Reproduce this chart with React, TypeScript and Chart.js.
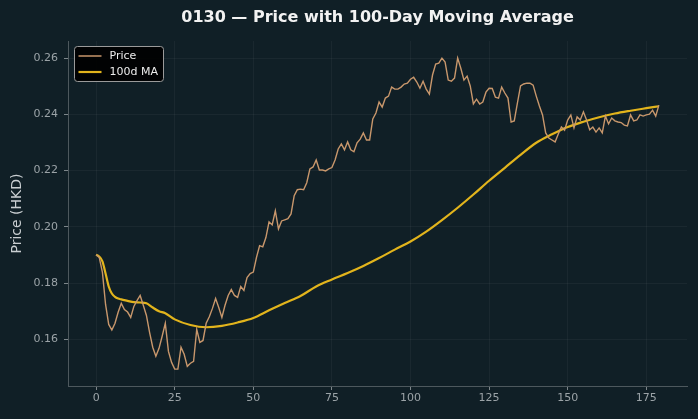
import { useEffect, useRef } from "react";
import { Chart, registerables } from "chart.js";

Chart.register(...registerables);

const TITLE = "0130 — Price with 100-Day Moving Average";
const Y_LABEL = "Price (HKD)";
const PRICE_LABEL = "Price";
const MA_LABEL = "100d MA";

const X_TICKS = [0, 25, 50, 75, 100, 125, 150, 175];
const Y_TICKS = [0.16, 0.18, 0.2, 0.22, 0.24, 0.26];
const X_RANGE = [-8.95, 187.95];
const Y_RANGE = [0.1434, 0.2661];

// Daily closing price, one value per trading day (day 0 .. 179)
const PRICE = [
  0.1901, 0.1891, 0.1838, 0.1724, 0.1653, 0.1633, 0.1657, 0.1696, 0.1728, 0.1706,
  0.1697, 0.1678, 0.1717, 0.1738, 0.1756, 0.1721, 0.1685, 0.1625, 0.1572, 0.154,
  0.1568, 0.1611, 0.1657, 0.1557, 0.1518, 0.1494, 0.1494, 0.1572, 0.1547, 0.1504,
  0.1515, 0.1522, 0.1635, 0.1589, 0.1596, 0.1657, 0.168, 0.171, 0.1745, 0.1713,
  0.1678, 0.1721, 0.1756, 0.1777, 0.1756, 0.1749, 0.1788, 0.1774, 0.182, 0.1834,
  0.1839, 0.1891, 0.1933, 0.1929, 0.1962, 0.2018, 0.2007, 0.2057, 0.1993, 0.2021,
  0.2025, 0.2029, 0.2046, 0.2111, 0.2132, 0.2134, 0.2132, 0.2157, 0.2206, 0.2213,
  0.2238, 0.2202, 0.2202, 0.2199, 0.2206, 0.2211, 0.2238, 0.2277, 0.2295, 0.2274,
  0.2302, 0.2274, 0.2267, 0.2299, 0.2312, 0.2334, 0.2309, 0.2309, 0.2384, 0.2405,
  0.2444, 0.2426, 0.2458, 0.2465, 0.2497, 0.249, 0.249, 0.2497, 0.2508, 0.2511,
  0.2525, 0.2532, 0.2515, 0.2493, 0.2518, 0.249, 0.2472, 0.254, 0.2579, 0.2582,
  0.26, 0.2586, 0.2522, 0.2518, 0.2529, 0.26, 0.2564, 0.2522, 0.2536, 0.2501,
  0.2437, 0.2454, 0.2437, 0.2444, 0.2479, 0.2493, 0.2492, 0.2461, 0.2458, 0.2497,
  0.2476, 0.2458, 0.2373, 0.2377, 0.244, 0.2501, 0.2508, 0.2511, 0.2511, 0.2504,
  0.2465, 0.243, 0.2398, 0.2334, 0.2316, 0.2309, 0.2302, 0.233, 0.2355, 0.2344,
  0.238, 0.2398, 0.2352, 0.2391, 0.238, 0.2409, 0.238, 0.2345, 0.2355, 0.2337,
  0.2352, 0.2334, 0.2394, 0.2366, 0.2387, 0.2377, 0.2373, 0.2371, 0.2362, 0.2359,
  0.2398, 0.2377, 0.238, 0.2398, 0.2394, 0.2398, 0.2401, 0.2415, 0.2394, 0.2433,
];

// 100-day moving average, sampled on selected days
const MA_DAY = [
  0, 1, 2, 3, 4, 5, 6, 7, 8, 10, 12, 14, 16, 18, 20, 22, 25, 30, 35, 40, 45, 50,
  55, 60, 65, 70, 75, 80, 85, 90, 95, 100, 105, 110, 115, 120, 125, 130, 135, 140,
  145, 150, 155, 160, 165, 170, 175, 179,
];
const MA_VALUE = [
  0.1901, 0.1894, 0.1877, 0.1834, 0.1788, 0.1763, 0.1751, 0.1745, 0.1742, 0.1737,
  0.1732, 0.1731, 0.1728, 0.1713, 0.17, 0.1693, 0.1671, 0.1651, 0.1643, 0.1648,
  0.166, 0.1676, 0.1703, 0.1729, 0.1754, 0.1788, 0.1813, 0.1836, 0.1861, 0.1889,
  0.1919, 0.1948, 0.1983, 0.2024, 0.2068, 0.2115, 0.2164, 0.221, 0.2256, 0.2299,
  0.2329, 0.2355, 0.2374, 0.239, 0.2403, 0.2413, 0.2422, 0.2429,
];

const BG = "#101f26";
const FONT = "'DejaVu Sans', sans-serif";
const PRICE_COLOR = "#c8976c";
const MA_COLOR = "#e2b41c";

const overlay = {
  id: "overlay",
  beforeDraw(chart: any) {
    const { ctx, width, height } = chart;
    ctx.save();
    ctx.fillStyle = BG;
    ctx.fillRect(0, 0, width, height);
    ctx.restore();
  },
  afterDraw(chart: any) {
    const { ctx, chartArea } = chart;
    ctx.save();
    // title
    ctx.fillStyle = "#f2f2f2";
    ctx.font = `bold 16px ${FONT}`;
    ctx.textAlign = "center";
    ctx.textBaseline = "middle";
    ctx.fillText(TITLE, (chartArea.left + chartArea.right) / 2, 18);

    // legend box
    const bx = chartArea.left + 6.5;
    const by = chartArea.top + 5.5;
    const bw = 89;
    const bh = 35;
    ctx.beginPath();
    ctx.roundRect(bx, by, bw, bh, 3);
    ctx.fillStyle = "rgba(0,0,0,0.92)";
    ctx.fill();
    ctx.strokeStyle = "#9a9a9a";
    ctx.lineWidth = 1;
    ctx.stroke();

    const rows = [
      { label: PRICE_LABEL, color: PRICE_COLOR, w: 1.5 },
      { label: MA_LABEL, color: MA_COLOR, w: 2.2 },
    ];
    ctx.font = `11px ${FONT}`;
    ctx.textAlign = "left";
    rows.forEach((r, i) => {
      const y = by + 9.5 + i * 16;
      ctx.beginPath();
      ctx.moveTo(bx + 4, y);
      ctx.lineTo(bx + 27, y);
      ctx.strokeStyle = r.color;
      ctx.lineWidth = r.w;
      ctx.stroke();
      ctx.fillStyle = "#ececec";
      ctx.fillText(r.label, bx + 35, y + 0.5);
    });
    ctx.restore();
  },
};

export default function App() {
  const ref = useRef<HTMLCanvasElement>(null);

  useEffect(() => {
    document.body.style.margin = "0";
    document.body.style.background = BG;
    const canvas = ref.current!;
    const priceData = PRICE.map((y, x) => ({ x, y }));
    const maData = MA_DAY.map((x, i) => ({ x, y: MA_VALUE[i] }));

    const chart = new Chart(canvas, {
      type: "line",
      data: {
        datasets: [
          {
            label: PRICE_LABEL,
            data: priceData,
            borderColor: PRICE_COLOR,
            borderWidth: 1.4,
            pointRadius: 0,
            tension: 0,
          },
          {
            label: MA_LABEL,
            data: maData,
            borderColor: MA_COLOR,
            borderWidth: 2.2,
            pointRadius: 0,
            cubicInterpolationMode: "monotone",
          },
        ],
      },
      options: {
        animation: false,
        responsive: false,
        devicePixelRatio: 1,
        layout: { padding: { top: 41, right: 11, left: 0, bottom: 0 } },
        plugins: {
          legend: { display: false },
          title: { display: false },
          tooltip: { enabled: false },
        },
        scales: {
          x: {
            type: "linear",
            min: X_RANGE[0],
            max: X_RANGE[1],
            afterBuildTicks: (s: any) => {
              s.ticks = X_TICKS.map((value) => ({ value }));
            },
            afterFit: (s: any) => {
              s.height = 33;
            },
            ticks: {
              color: "#9ba3a7",
              font: { family: FONT, size: 11 },
              padding: 2,
              maxRotation: 0,
              callback: (v: any) => String(v),
            },
            grid: {
              color: "rgba(255,255,255,0.045)",
              tickColor: "#7d868a",
              tickLength: 4,
            },
            border: { color: "#4d585d", width: 1 },
          },
          y: {
            type: "linear",
            min: Y_RANGE[0],
            max: Y_RANGE[1],
            afterBuildTicks: (s: any) => {
              s.ticks = Y_TICKS.map((value) => ({ value }));
            },
            afterFit: (s: any) => {
              s.width = 68;
            },
            ticks: {
              color: "#9ba3a7",
              font: { family: FONT, size: 11 },
              padding: 6,
              callback: (v: any) => Number(v).toFixed(2),
            },
            grid: {
              color: "rgba(255,255,255,0.045)",
              tickColor: "#7d868a",
              tickLength: 4,
            },
            border: { color: "#4d585d", width: 1 },
            title: {
              display: true,
              text: Y_LABEL,
              color: "#c9ced1",
              font: { family: FONT, size: 14 },
              padding: { top: 9, bottom: 0 },
            },
          },
        },
      },
      plugins: [overlay],
    });
    return () => chart.destroy();
  }, []);

  return <canvas ref={ref} width={698} height={419} style={{ display: "block" }} />;
}
